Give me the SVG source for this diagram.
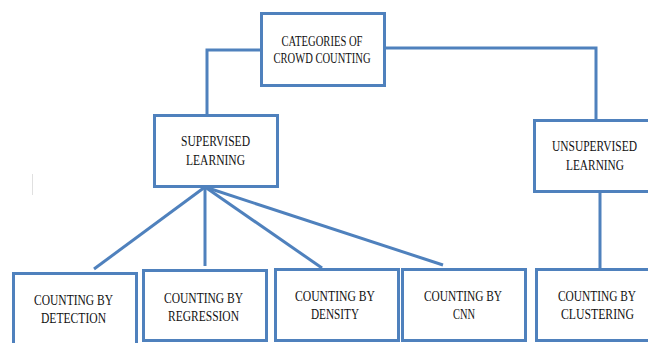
<svg xmlns="http://www.w3.org/2000/svg" width="648" height="343" viewBox="0 0 648 343">
<style>
.box{fill:#ffffff;stroke:#4f81bd;stroke-width:3}
.conn{fill:none;stroke:#4f81bd;stroke-width:3;stroke-linecap:butt}
text{font-family:"Liberation Serif","Times New Roman",serif;font-size:14.5px;fill:#111111;text-anchor:middle}
</style>
<rect x="0" y="0" width="648" height="343" fill="#ffffff"/>
<line x1="32.5" y1="174" x2="32.5" y2="195" stroke="#e0e0e0" stroke-width="1"/>
<g id="connectors">
<polyline class="conn" points="261,50 207,50 207,115"/>
<polyline class="conn" points="385,48 596,48 596,120"/>
<line class="conn" x1="205" y1="187" x2="94" y2="269"/>
<line class="conn" x1="205" y1="187" x2="205" y2="266"/>
<line class="conn" x1="205" y1="187" x2="322" y2="268"/>
<line class="conn" x1="205" y1="187" x2="443" y2="265"/>
<line class="conn" x1="600" y1="192" x2="600" y2="269"/>
</g>
<g id="root">
<rect class="box" x="261.5" y="13.5" width="123" height="72"/>
<text x="322" y="46" textLength="81" lengthAdjust="spacingAndGlyphs">CATEGORIES OF</text>
<text x="322" y="63" textLength="97" lengthAdjust="spacingAndGlyphs">CROWD COUNTING</text>
</g>
<g id="supervised">
<rect class="box" x="154.5" y="115.5" width="123" height="71"/>
<text x="215.5" y="146" textLength="69" lengthAdjust="spacingAndGlyphs">SUPERVISED</text>
<text x="215.5" y="165" textLength="59" lengthAdjust="spacingAndGlyphs">LEARNING</text>
</g>
<g id="unsupervised">
<rect class="box" x="534.5" y="120.5" width="120" height="71"/>
<text x="594.5" y="151" textLength="85" lengthAdjust="spacingAndGlyphs">UNSUPERVISED</text>
<text x="595" y="170" textLength="58" lengthAdjust="spacingAndGlyphs">LEARNING</text>
</g>
<g id="detection">
<rect class="box" x="13.5" y="273.5" width="123" height="80"/>
<text x="73.5" y="305" textLength="79" lengthAdjust="spacingAndGlyphs">COUNTING BY</text>
<text x="73.5" y="323" textLength="65" lengthAdjust="spacingAndGlyphs">DETECTION</text>
</g>
<g id="regression">
<rect class="box" x="143.5" y="270.5" width="123" height="70"/>
<text x="203.5" y="303" textLength="79" lengthAdjust="spacingAndGlyphs">COUNTING BY</text>
<text x="203.5" y="321" textLength="71" lengthAdjust="spacingAndGlyphs">REGRESSION</text>
</g>
<g id="density">
<rect class="box" x="275.5" y="269.5" width="123" height="71"/>
<text x="335" y="301" textLength="80" lengthAdjust="spacingAndGlyphs">COUNTING BY</text>
<text x="335" y="319" textLength="48" lengthAdjust="spacingAndGlyphs">DENSITY</text>
</g>
<g id="cnn">
<rect class="box" x="402.5" y="269.5" width="123" height="71"/>
<text x="463" y="301" textLength="78" lengthAdjust="spacingAndGlyphs">COUNTING BY</text>
<text x="464" y="319" textLength="22" lengthAdjust="spacingAndGlyphs">CNN</text>
</g>
<g id="clustering">
<rect class="box" x="536.5" y="269.5" width="123" height="71"/>
<text x="597" y="301" textLength="78" lengthAdjust="spacingAndGlyphs">COUNTING BY</text>
<text x="597.5" y="319" textLength="73" lengthAdjust="spacingAndGlyphs">CLUSTERING</text>
</g>
</svg>
